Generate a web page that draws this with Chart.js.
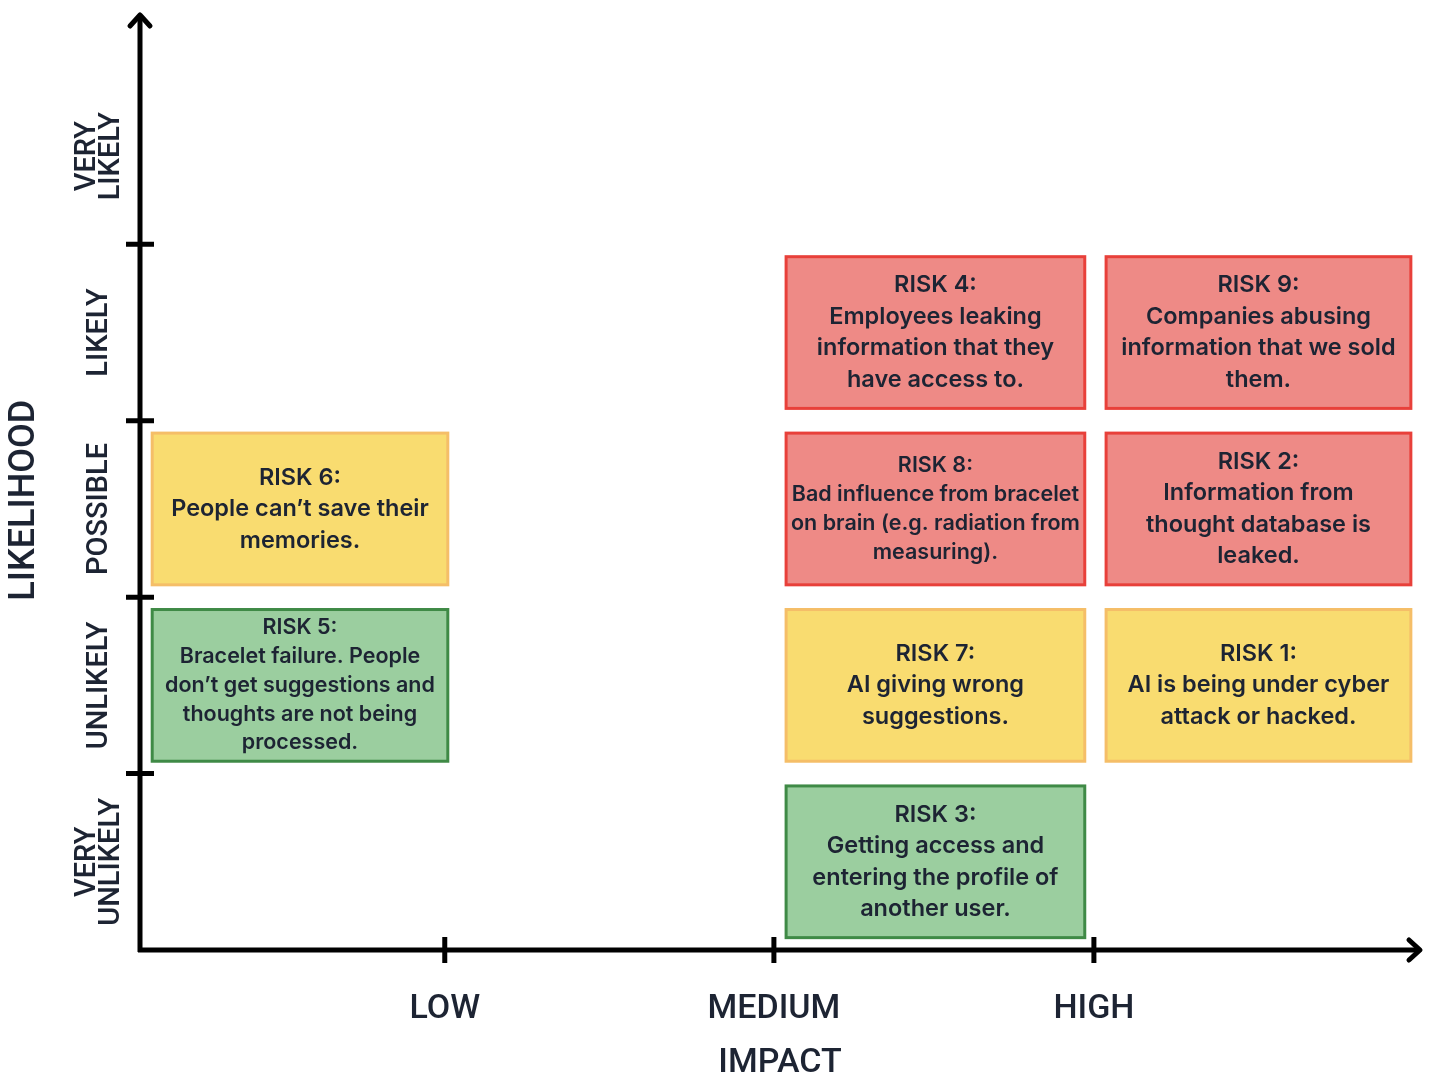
<!DOCTYPE html>
<html>
<head>
<meta charset="utf-8">
<script src="https://cdn.jsdelivr.net/npm/chart.js@4"></script>
<style>
  html, body { margin: 0; padding: 0; background: #ffffff; }
  #wrap { width: 1431px; height: 1077px; }
</style>
</head>
<body>
<div id="wrap"><canvas id="riskChart" width="1431" height="1077"></canvas></div>
<script>
// Risk matrix: impact (x) vs likelihood (y)

const impactLabels = ["LOW", "MEDIUM", "HIGH"];
const impactTicks = [1, 2.08, 3.13];

const likelihoodLabels = [
    ["VERY", "UNLIKELY"],
    "UNLIKELY",
    "POSSIBLE",
    "LIKELY",
    ["VERY", "LIKELY"]
];
const likelihoodBounds = [1, 2, 3, 4];

const riskNames = ["RISK 1:", "RISK 2:", "RISK 3:", "RISK 4:", "RISK 5:", "RISK 6:", "RISK 7:", "RISK 8:", "RISK 9:"];
// 0 = low, 1 = medium, 2 = high
const riskImpact = [2, 2, 1, 1, 0, 0, 1, 1, 2];
// 0 = very unlikely ... 4 = very likely
const riskLikelihood = [1, 2, 0, 3, 1, 2, 1, 2, 3];
const riskLevel = ["medium", "high", "low", "high", "low", "medium", "medium", "high", "high"];
const riskText = [
    ["AI is being under cyber", "attack or hacked."],
    ["Information from", "thought database is", "leaked."],
    ["Getting access and", "entering the profile of", "another user."],
    ["Employees leaking", "information that they", "have access to."],
    ["Bracelet failure. People", "don’t get suggestions and", "thoughts are not being", "processed."],
    ["People can’t save their", "memories."],
    ["AI giving wrong", "suggestions."],
    ["Bad influence from bracelet", "on brain (e.g. radiation from", "measuring)."],
    ["Companies abusing", "information that we sold", "them."]
];

// layout / style
const columnSpan = [[0.04, 1.01], [2.12, 3.10], [3.17, 4.17]];
const rowInset = 0.07;
const levelColors = {
    high:   { fill: "#EE8A86", border: "#E8403A" },
    medium: { fill: "#F9DC70", border: "#F5BE68" },
    low:    { fill: "#9BCE9F", border: "#3F8A46" }
};
const inkColor = "#1D2433";

const riskMatrix = {
    id: "riskMatrix",

    beforeDatasetsDraw(chart) {
        const {ctx, scales: {x, y}} = chart;

        riskNames.forEach((name, i) => {
            const span = columnSpan[riskImpact[i]];
            const left = x.getPixelForValue(span[0]);
            const right = x.getPixelForValue(span[1]);
            const top = y.getPixelForValue(riskLikelihood[i] + 1 - rowInset);
            const bottom = y.getPixelForValue(riskLikelihood[i] + rowInset);
            const col = levelColors[riskLevel[i]];

            ctx.save();
            ctx.fillStyle = col.fill;
            ctx.fillRect(left, top, right - left, bottom - top);
            ctx.strokeStyle = col.border;
            ctx.lineWidth = 3;
            ctx.strokeRect(left, top, right - left, bottom - top);

            // shrink the text until it fits in its box
            const lines = [name].concat(riskText[i]);
            let size = 23.5;
            let lh = size * 1.34;
            while (size > 12) {
                ctx.font = "600 " + size + "px Inter";
                lh = size * 1.34;
                const widest = Math.max(...lines.map(l => ctx.measureText(l).width));
                if (widest <= right - left - 4 && lines.length * lh <= bottom - top - 6) break;
                size -= 0.5;
            }
            ctx.fillStyle = inkColor;
            ctx.textAlign = "center";
            ctx.textBaseline = "middle";
            const cx = (left + right) / 2;
            const cy = (top + bottom) / 2;
            lines.forEach((l, k) => {
                ctx.fillText(l, cx, cy + (k - (lines.length - 1) / 2) * lh);
            });
            ctx.restore();
        });
    },

    afterDraw(chart) {
        const {ctx, scales: {x, y}} = chart;
        const x0 = x.getPixelForValue(0);
        const y0 = y.getPixelForValue(0);
        const xEnd = x.getPixelForValue(x.max);
        const yEnd = y.getPixelForValue(y.max);

        ctx.save();
        ctx.strokeStyle = "#000000";
        ctx.lineWidth = 5;
        ctx.lineCap = "butt";

        // axes
        ctx.beginPath();
        ctx.moveTo(x0, y0 + 2);
        ctx.lineTo(x0, yEnd + 2);
        ctx.moveTo(x0 - 2, y0);
        ctx.lineTo(xEnd - 2, y0);
        ctx.stroke();

        // arrow heads
        ctx.lineCap = "round";
        ctx.lineJoin = "round";
        ctx.beginPath();
        ctx.moveTo(x0 - 10, yEnd + 11);
        ctx.lineTo(x0, yEnd);
        ctx.lineTo(x0 + 10, yEnd + 11);
        ctx.moveTo(xEnd - 11, y0 - 10);
        ctx.lineTo(xEnd, y0);
        ctx.lineTo(xEnd - 11, y0 + 10);
        ctx.stroke();

        // tick marks
        ctx.lineCap = "butt";
        ctx.beginPath();
        likelihoodBounds.forEach(v => {
            const py = y.getPixelForValue(v);
            ctx.moveTo(x0 - 14, py);
            ctx.lineTo(x0 + 14, py);
        });
        impactTicks.forEach(v => {
            const px = x.getPixelForValue(v);
            ctx.moveTo(px, y0 - 13);
            ctx.lineTo(px, y0 + 13);
        });
        ctx.stroke();

        // likelihood category labels
        ctx.fillStyle = inkColor;
        ctx.font = "500 29px Roboto";
        ctx.textAlign = "center";
        ctx.textBaseline = "middle";
        likelihoodLabels.forEach((lab, i) => {
            const lines = Array.isArray(lab) ? lab : [lab];
            const py = y.getPixelForValue(i + 0.5);
            ctx.save();
            ctx.translate(100, py);
            ctx.rotate(-Math.PI / 2);
            lines.forEach((l, k) => {
                ctx.fillText(l, 0, (k - (lines.length - 1) / 2) * 24);
            });
            ctx.restore();
        });

        // likelihood axis title
        ctx.font = "500 36px Roboto";
        ctx.save();
        ctx.translate(25, y.getPixelForValue(2.55));
        ctx.rotate(-Math.PI / 2);
        ctx.fillText("LIKELIHOOD", 0, 0);
        ctx.restore();
        ctx.restore();
    }
};

const riskCanvas = document.getElementById("riskChart");

new Chart(riskCanvas, {

    type: "scatter",

    data: {
        datasets: [{
            label: "Risks",
            data: riskNames.map((n, i) => ({
                x: (columnSpan[riskImpact[i]][0] + columnSpan[riskImpact[i]][1]) / 2,
                y: riskLikelihood[i] + 0.5
            })),
            pointRadius: 0
        }]
    },

    options: {
        responsive: false,
        animation: false,
        layout: {
            padding: { top: 15, right: 11, left: 0, bottom: 0 }
        },
        plugins: {
            legend: { display: false },
            tooltip: { enabled: false }
        },
        scales: {
            x: {
                type: "linear",
                min: 0,
                max: 4.2,
                afterBuildTicks(scale) {
                    scale.ticks = impactTicks.map(v => ({ value: v }));
                },
                afterFit(scale) {
                    scale.height = 127;
                },
                ticks: {
                    padding: 31,
                    color: inkColor,
                    font: { family: "Roboto", size: 34, weight: "500" },
                    callback: (value, index) => impactLabels[index]
                },
                grid: { display: false },
                border: { display: false },
                title: {
                    display: true,
                    text: "IMPACT",
                    color: inkColor,
                    font: { family: "Roboto", size: 34, weight: "500" },
                    padding: { top: 0, bottom: -7 }
                }
            },
            y: {
                type: "linear",
                min: 0,
                max: 5.3,
                afterFit(scale) {
                    scale.width = 140;
                },
                ticks: { display: false },
                grid: { display: false },
                border: { display: false },
                title: { display: false }
            }
        }
    },

    plugins: [riskMatrix]
});
</script>
</body>
</html>
